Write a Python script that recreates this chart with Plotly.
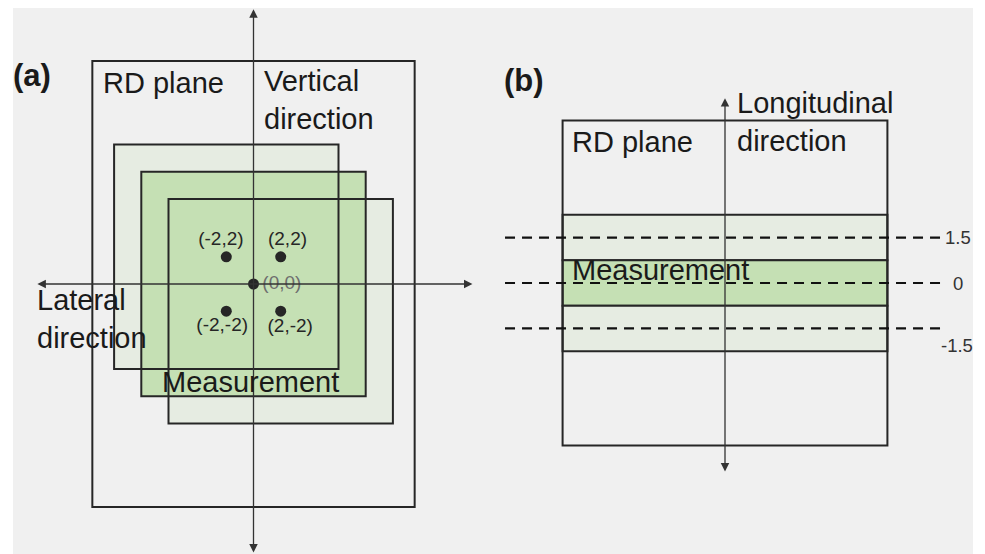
import plotly.graph_objects as go

W, H = 985, 554
FONT = "Liberation Sans, Arial, sans-serif"
INK = "#262626"
LIGHT = "#e6ece2"
GREEN = "#c5e0b4"
BG = "#f0f0f0"

# ---- panel (a): RD plane seen from the front ----
plane_a_half = [11.85, 16.4]          # half width, half height of the RD plane
meas_x = [-2, 0, 2]                   # measurement square centres
meas_y = [2, 0, -2]
meas_half = 8.25
meas_fill = [LIGHT, GREEN, LIGHT]
meas_draw_order = [0, 2, 1]
point_x = [-2, 2, 0, -2, 2]
point_y = [2, 2, 0, -2, -2]
point_labels = ["(-2,2)", "(2,2)", "(0,0)", "(-2,-2)", "(2,-2)"]
label_dx = [-0.4, 0.5, 0.65, -0.3, 0.7]
label_dy = [1.25, 1.2, 0.0, -1.1, -1.2]
label_color = [INK, INK, "#6e6e6e", INK, INK]

# ---- panel (b): RD plane seen from the side ----
plane_b_half = [5.36, 5.36]
offsets_b = [1.5, 0, -1.5]
offset_labels = ["1.5", "0", "-1.5"]
band_half = 0.75

# axis scales (pixels per unit) and origins (pixels from top-left)
sa, oa = 13.6, (253.5, 284)
sb, ob = 30.3, (725, 283)

fig = go.Figure()

# measurement points
fig.add_trace(go.Scatter(x=point_x, y=point_y, mode="markers",
                         marker=dict(size=11, color=INK), xaxis="x", yaxis="y",
                         hoverinfo="skip"))
fig.add_trace(go.Scatter(x=[point_x[i] + label_dx[i] for i in range(5)],
                         y=[point_y[i] + label_dy[i] for i in range(5)],
                         mode="text", text=point_labels,
                         textposition=["middle center", "middle center", "middle right",
                                       "middle center", "middle center"],
                         textfont=dict(family=FONT, size=19, color=label_color),
                         xaxis="x", yaxis="y", hoverinfo="skip"))

# dashed reference lines in panel (b)
for off in offsets_b:
    fig.add_trace(go.Scatter(x=[-7.26, 7.2], y=[off, off], mode="lines",
                             line=dict(color="#111111", width=2.2, dash="10px,7px"),
                             xaxis="x2", yaxis="y2", hoverinfo="skip"))

shapes = []
# grey backdrop
shapes.append(dict(type="rect", xref="paper", yref="paper",
                   x0=13 / W, x1=973 / W, y0=0, y1=1 - 8 / H,
                   fillcolor=BG, line=dict(width=0), layer="below"))

# panel (a) fills
shapes.append(dict(type="rect", xref="x", yref="y",
                   x0=-plane_a_half[0], x1=plane_a_half[0],
                   y0=-plane_a_half[1], y1=plane_a_half[1],
                   fillcolor=BG, line=dict(width=0), layer="below"))
for i in meas_draw_order:
    shapes.append(dict(type="rect", xref="x", yref="y",
                       x0=meas_x[i] - meas_half, x1=meas_x[i] + meas_half,
                       y0=meas_y[i] - meas_half, y1=meas_y[i] + meas_half,
                       fillcolor=meas_fill[i], line=dict(width=0), layer="below"))
# panel (a) outlines
shapes.append(dict(type="rect", xref="x", yref="y",
                   x0=-plane_a_half[0], x1=plane_a_half[0],
                   y0=-plane_a_half[1], y1=plane_a_half[1],
                   line=dict(color=INK, width=2), layer="below"))
for i in range(3):
    shapes.append(dict(type="rect", xref="x", yref="y",
                       x0=meas_x[i] - meas_half, x1=meas_x[i] + meas_half,
                       y0=meas_y[i] - meas_half, y1=meas_y[i] + meas_half,
                       line=dict(color=INK, width=2), layer="below"))

# panel (b) fills and outlines
for off in offsets_b:
    shapes.append(dict(type="rect", xref="x2", yref="y2",
                       x0=-plane_b_half[0], x1=plane_b_half[0],
                       y0=off - band_half, y1=off + band_half,
                       fillcolor=GREEN if off == 0 else LIGHT,
                       line=dict(color=INK, width=2), layer="below"))
shapes.append(dict(type="rect", xref="x2", yref="y2",
                   x0=-plane_b_half[0], x1=plane_b_half[0],
                   y0=-plane_b_half[1], y1=plane_b_half[1],
                   line=dict(color=INK, width=2), layer="below"))

ann = []
arrow = dict(showarrow=True, arrowhead=2, arrowsize=1.3, arrowwidth=1.3,
             arrowcolor="#333333", text="", arrowside="end+start", startarrowhead=2,
             startarrowsize=1.3)
# panel (a) axes
ann.append(dict(x=16.1, y=0, ax=-16.0, ay=0, xref="x", yref="y", axref="x", ayref="y", **arrow))
ann.append(dict(x=0, y=20.2, ax=0, ay=-19.85, xref="x", yref="y", axref="x", ayref="y", **arrow))
# panel (b) axis
ann.append(dict(x=0, y=6.1, ax=0, ay=-6.27, xref="x2", yref="y2", axref="x2", ayref="y2", **arrow))


def label(text, x, y, ref, size=29, anchor="left", color="#1a1a1a", bold=False):
    xr, yr = ref
    t = f"<b>{text}</b>" if bold else text
    ann.append(dict(text=t, x=x, y=y, xref=xr, yref=yr, showarrow=False,
                    xanchor=anchor, yanchor="middle", align="left",
                    font=dict(family=FONT, size=size, color=color)))


label("(a)", 11 / W, 1 - 75 / H, ("paper", "paper"), size=31, bold=True)
label("(b)", 502 / W, 1 - 80 / H, ("paper", "paper"), size=31, bold=True)
label("RD plane", -11.2, 14.8, ("x", "y"))
label("Vertical<br>direction", 0.6, 13.55, ("x", "y"))
label("Lateral<br>direction", -16.1, -2.6, ("x", "y"))
label("Measurement", -6.9, -7.2, ("x", "y"))
label("RD plane", -5.1, 4.65, ("x2", "y2"))
label("Longitudinal<br>direction", 0.33, 5.31, ("x2", "y2"))
label("Measurement", -5.1, 0.43, ("x2", "y2"))
label_pos_b = [(7.2, 1.5), (7.45, 0.0), (7.05, -2.05)]
for txt, (lx, ly) in zip(offset_labels, label_pos_b):
    label(txt, lx, ly, ("x2", "y2"), size=18.5, color="#333333")

split = 0.5
axis_off = dict(visible=False, showgrid=False, zeroline=False, fixedrange=True)
fig.update_layout(
    width=W, height=H, margin=dict(l=0, r=0, t=0, b=0),
    paper_bgcolor="white", plot_bgcolor="rgba(0,0,0,0)", showlegend=False,
    shapes=shapes, annotations=ann,
    xaxis=dict(domain=[0, split], range=[-oa[0] / sa, (split * W - oa[0]) / sa], **axis_off),
    yaxis=dict(domain=[0, 1], range=[-(H - oa[1]) / sa, oa[1] / sa], **axis_off),
    xaxis2=dict(domain=[split, 1], range=[(split * W - ob[0]) / sb, (W - ob[0]) / sb], **axis_off),
    yaxis2=dict(domain=[0, 1], range=[-(H - ob[1]) / sb, ob[1] / sb], anchor="x2", **axis_off),
)
fig.data[2].update(xaxis="x2", yaxis="y2")

fig.write_html("out.html")
